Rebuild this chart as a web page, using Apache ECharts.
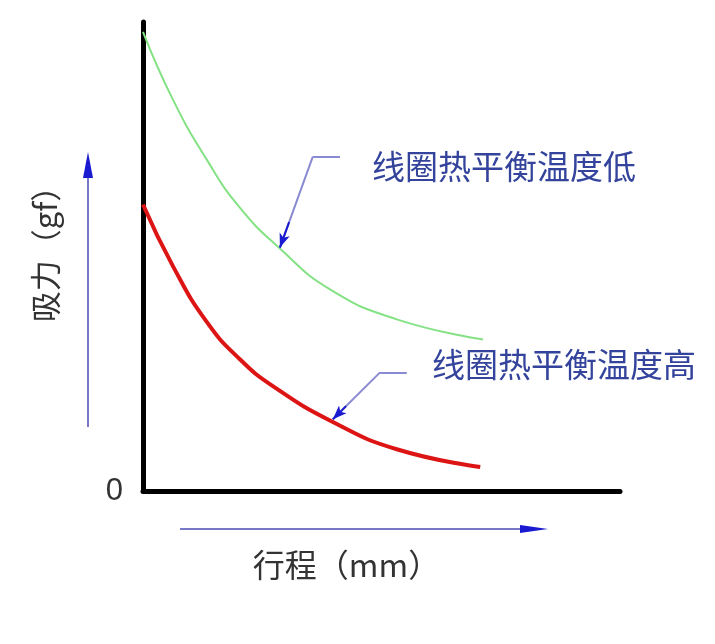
<!DOCTYPE html>
<html>
<head>
    <meta charset="utf-8">
    <title>吸力-行程曲线</title>
</head>
<body style="margin:0;background:#fff;">
    <div id="main" style="width: 715px; height: 644px;"></div>
    <script src="https://cdn.jsdelivr.net/npm/echarts@6/dist/echarts.min.js"></script>
    <script type="text/javascript">
        // 曲线数据
        var lowX  = [0, 0.63, 1.34, 2.03, 2.87, 3.92, 5.32, 7.13];
        var lowY  = [9.79, 8.34, 7.06, 6.04, 5.17, 4.30, 3.66, 3.23];
        var highX = [0, 0.63, 1.34, 2.03, 2.73, 3.98, 5.32, 7.07];
        var highY = [6.11, 4.79, 3.60, 2.81, 2.23, 1.47, 0.89, 0.51];
        var lowName = '线圈热平衡温度低';
        var highName = '线圈热平衡温度高';
        // 引线：[文字起点, 折点, 箭头落点]
        var lowLeader  = [[4.13, 7.13], [3.56, 7.13], [2.87, 5.19]];
        var highLeader = [[5.53, 2.53], [4.97, 2.53], [3.98, 1.53]];
        var lowText = [4.80, 6.91];
        var highText = [6.06, 2.70];

        var chartDom = document.getElementById('main');
        var myChart = echarts.init(chartDom);

        function zip(xs, ys) {
            return xs.map(function (x, i) { return [x, ys[i]]; });
        }

        function leader(pts, text, textPos) {
            var c = pts[1], t = pts[2];
            var near = [c[0] + (t[0] - c[0]) * 0.72, c[1] + (t[1] - c[1]) * 0.72];
            return {
                markLine: {
                    silent: true,
                    animation: false,
                    label: { show: false },
                    data: [
                        [{ coord: pts[0], symbol: 'none', lineStyle: { color: '#8a8ad2', width: 2, type: 'solid' } },
                         { coord: pts[1], symbol: 'none' }],
                        [{ coord: pts[1], symbol: 'none', lineStyle: { color: '#8a8ad2', width: 2, type: 'solid' } },
                         { coord: pts[2], symbol: 'none' }],
                        [{ coord: near, symbol: 'none', lineStyle: { color: '#1a1ad0', width: 2, type: 'solid' } },
                         { coord: pts[2], symbol: 'arrow', symbolSize: [8, 14] }]
                    ]
                },
                markPoint: {
                    silent: true,
                    symbol: 'circle',
                    symbolSize: 0,
                    data: [{
                        coord: textPos,
                        label: {
                            show: true,
                            position: 'right',
                            distance: 0,
                            formatter: text,
                            fontSize: 33,
                            fontFamily: 'Noto Sans CJK SC',
                            color: '#34449c'
                        }
                    }]
                }
            };
        }

        var lowSeries = Object.assign({
            name: lowName,
            type: 'line',
            data: zip(lowX, lowY),
            smooth: 0.5,
            showSymbol: false,
            lineStyle: { color: '#84e284', width: 2 }
        }, leader(lowLeader, lowName, lowText));

        var highSeries = Object.assign({
            name: highName,
            type: 'line',
            data: zip(highX, highY),
            smooth: 0.5,
            showSymbol: false,
            lineStyle: { color: '#dd1414', width: 4 }
        }, leader(highLeader, highName, highText));

        var option = {
            animation: false,
            grid: { left: 143, right: 95, top: 22, bottom: 153 },
            xAxis: {
                type: 'value',
                min: 0,
                max: 10,
                name: '行程（mm）',
                nameLocation: 'middle',
                nameGap: 58,
                nameTextStyle: {
                    fontSize: 32,
                    fontFamily: 'Noto Sans CJK SC',
                    color: '#333',
                    padding: [0, 70, 0, 0]
                },
                axisLine: { show: true, lineStyle: { color: '#000', width: 5 } },
                axisTick: { show: false },
                axisLabel: { show: false },
                splitLine: { show: false }
            },
            yAxis: {
                type: 'value',
                min: 0,
                max: 10,
                interval: 10,
                name: '吸力（gf）',
                nameLocation: 'middle',
                nameGap: 82,
                nameTextStyle: {
                    fontSize: 31,
                    fontFamily: 'Noto Sans CJK SC',
                    color: '#333',
                    padding: [0, 0, 0, 20]
                },
                axisLine: { show: true, lineStyle: { color: '#000', width: 5 } },
                axisTick: { show: false },
                axisLabel: {
                    margin: 20,
                    fontSize: 31,
                    fontFamily: 'Liberation Sans',
                    color: '#333',
                    formatter: function (v) { return v === 0 ? '0' : ''; }
                },
                splitLine: { show: false }
            },
            graphic: [
                { type: 'line', shape: { x1: 88, y1: 427, x2: 88, y2: 176 }, style: { stroke: '#7878c8', lineWidth: 2 } },
                { type: 'polygon', shape: { points: [[88, 152], [83, 178], [93, 178]] }, style: { fill: '#1a1ad0' } },
                { type: 'line', shape: { x1: 180, y1: 529, x2: 522, y2: 529 }, style: { stroke: '#7878c8', lineWidth: 2 } },
                { type: 'polygon', shape: { points: [[548, 529], [520, 525], [520, 533]] }, style: { fill: '#1a1ad0' } }
            ],
            series: [lowSeries, highSeries]
        };

        myChart.setOption(option);
    </script>
</body>
</html>
